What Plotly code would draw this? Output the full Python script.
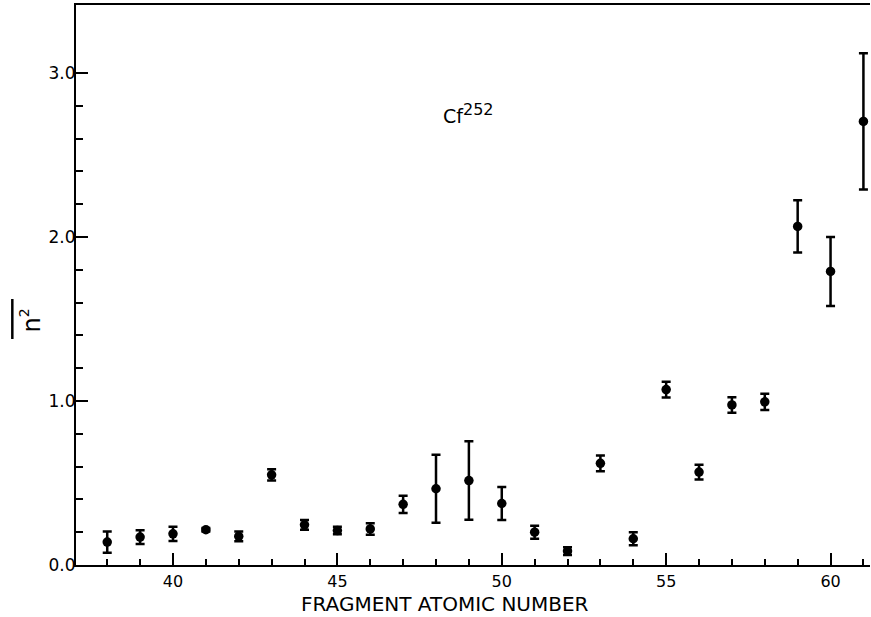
import plotly.graph_objects as go

# Fragment atomic number (x), mean n^2 values and symmetric errors
z_values = [38, 39, 40, 41, 42, 43, 44, 45, 46, 47, 48, 49, 50,
            51, 52, 53, 54, 55, 56, 57, 58, 59, 60, 61]
n2_values = [0.14, 0.17, 0.19, 0.215, 0.175, 0.55, 0.245, 0.21, 0.22, 0.37,
             0.465, 0.515, 0.375, 0.20, 0.085, 0.62, 0.16, 1.07, 0.567,
             0.976, 0.995, 2.065, 1.79, 2.705]
n2_errors = [0.065, 0.042, 0.044, 0.01, 0.03, 0.034, 0.03, 0.023, 0.035, 0.053,
             0.207, 0.239, 0.10, 0.04, 0.024, 0.048, 0.04, 0.048, 0.045,
             0.047, 0.05, 0.16, 0.21, 0.415]

x_major_ticks = [40, 45, 50, 55, 60]
y_major_ticks = [0.0, 1.0, 2.0, 3.0]
y_minor_ticks = [0.2, 0.4, 0.6, 0.8, 1.2, 1.4, 1.6, 1.8, 2.2, 2.4, 2.6, 2.8]

FONT = "DejaVu Sans"

fig = go.Figure()
fig.add_trace(go.Scatter(
    x=z_values, y=n2_values, mode="markers",
    marker=dict(color="black", size=9.5, symbol="circle"),
    error_y=dict(type="data", array=n2_errors, visible=True,
                 color="black", thickness=2.5, width=4.5),
    showlegend=False,
))

fig.update_layout(
    width=871, height=617,
    margin=dict(l=76, r=1, t=5, b=52),
    paper_bgcolor="white", plot_bgcolor="white",
    font=dict(family=FONT, color="black", size=16),
    xaxis=dict(
        range=[37.05, 61.2], showgrid=False, zeroline=False,
        showline=True, linecolor="black", linewidth=2, mirror=True,
        ticks="inside", ticklen=12, tickwidth=2, tickcolor="black",
        tickvals=x_major_ticks, ticktext=[str(v) for v in x_major_ticks],
        tickfont=dict(family=FONT, size=16),
        ticklabelstandoff=1,
        minor=dict(dtick=1, tick0=0, ticks="inside", ticklen=6,
                   tickwidth=2, tickcolor="black", showgrid=False),
    ),
    yaxis=dict(
        range=[0, 3.415], showgrid=False, zeroline=False,
        showline=True, linecolor="black", linewidth=2, mirror=False,
        ticks="inside", ticklen=12, tickwidth=2, tickcolor="black",
        tickvals=y_major_ticks, ticktext=[f"{v:.1f}" for v in y_major_ticks],
        tickfont=dict(family=FONT, size=17),
        ticklabelstandoff=-5,
        minor=dict(tickmode="array", tickvals=y_minor_ticks, ticks="inside",
                   ticklen=7, tickwidth=2, tickcolor="black", showgrid=False),
    ),
)

# x-axis title
fig.add_annotation(
    text="FRAGMENT ATOMIC NUMBER", xref="paper", yref="paper",
    x=0.4647, y=-0.0696, showarrow=False, xanchor="center", yanchor="middle",
    font=dict(family=FONT, size=20, color="black"),
)

# y-axis title: overlined n^2, rotated
fig.add_annotation(
    text="n<sup><span style='font-size:14px'>2</span></sup>",
    xref="paper", yref="paper", x=-0.0573, y=0.4357, textangle=-90,
    showarrow=False, xanchor="center", yanchor="middle",
    font=dict(family=FONT, size=24, color="black"),
)
fig.add_shape(type="line", xref="paper", yref="paper",
              x0=-0.0802, x1=-0.0802, y0=0.4036, y1=0.475,
              line=dict(color="black", width=2.5))

# Cf-252 label
fig.add_annotation(
    text="Cf<sup><span style='font-size:16px'>252</span></sup>",
    x=49.0, y=2.753, showarrow=False, xanchor="center", yanchor="middle",
    font=dict(family=FONT, size=19, color="black"),
)

fig.write_html("out.html")
